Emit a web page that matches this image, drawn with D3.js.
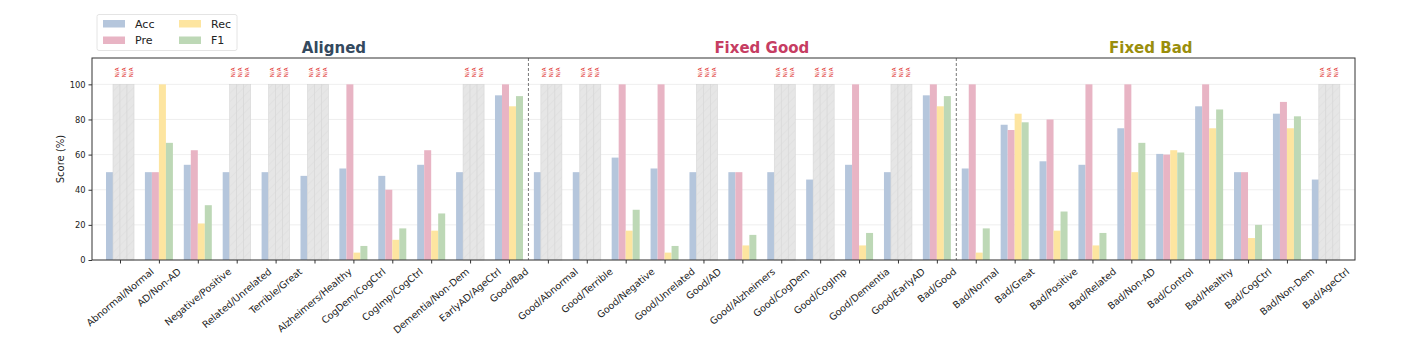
<!DOCTYPE html>
<html><head><meta charset="utf-8">
<script src="https://cdn.jsdelivr.net/npm/d3@7"></script>
<style>body{margin:0;background:#fff;} text{font-family:"DejaVu Sans",sans-serif;}</style>
</head><body>
<svg id="chart" width="1403" height="358"></svg>
<script>
const categories = ["Abnormal/Normal","AD/Non-AD","Negative/Positive","Related/Unrelated","Terrible/Great","Alzheimers/Healthy","CogDem/CogCtrl","CogImp/CogCtrl","Dementia/Non-Dem","EarlyAD/AgeCtrl","Good/Bad",
"Good/Abnormal","Good/Terrible","Good/Negative","Good/Unrelated","Good/AD","Good/Alzheimers","Good/CogDem","Good/CogImp","Good/Dementia","Good/EarlyAD","Bad/Good",
"Bad/Normal","Bad/Great","Bad/Positive","Bad/Related","Bad/Non-AD","Bad/Control","Bad/Healthy","Bad/CogCtrl","Bad/Non-Dem","Bad/AgeCtrl"];
const acc = [50,50,54.2,50,50,47.9,52.1,47.9,54.2,50,93.75, 50,50,58.3,52.1,50,50,50,45.8,54.2,50,93.75, 52.1,77,56.2,54.2,75,60.4,87.5,50,83.3,45.8];
const pre = [null,50,62.5,null,null,null,100,40,62.5,null,100, null,null,100,100,null,50,null,null,100,null,100, 100,74,80,100,100,60,100,50,90,null];
const rec = [null,100,20.8,null,null,null,4.2,11.5,16.7,null,87.5, null,null,16.7,4.2,null,8.3,null,null,8.3,null,87.5, 4.2,83.3,16.7,8.3,50,62.5,75,12.5,75,null];
const f1  = [null,66.7,31.2,null,null,null,8.0,18.0,26.5,null,93.3, null,null,28.6,8.0,null,14.3,null,null,15.4,null,93.3, 18.0,78.4,27.6,15.4,66.7,61.2,85.7,20.0,81.8,null];
const seriesNames = ["Acc","Pre","Rec","F1"];
const seriesColors = ["#b5c6dc","#e8b4c4","#fde5a0","#bdd8b6"];
const sections = [{name:"Aligned",x:5.5,color:"#34495e"},{name:"Fixed Good",x:16.5,color:"#c63d62"},{name:"Fixed Bad",x:26.5,color:"#9a8e0c"}];
const dividers = [10.5, 21.5];
const yTicks = [0,20,40,60,80,100];

const svg = d3.select("#chart");
const L=92, R=1355, T=58, B=260;
const x = d3.scaleLinear().domain([-0.72, 31.75]).range([L,R]);
const y = d3.scaleLinear().domain([0,115]).range([B,T]);
const bw = 0.18;
const series = [acc,pre,rec,f1];

const defs = svg.append("defs");
const pat = defs.append("pattern").attr("id","hatch").attr("patternUnits","userSpaceOnUse")
  .attr("width",6).attr("height",6).attr("patternTransform","rotate(45)");
pat.append("rect").attr("width",6).attr("height",6).attr("fill","#e6e6e6");
pat.append("line").attr("x1",0).attr("y1",0).attr("x2",0).attr("y2",6).attr("stroke","#dcdcdc").attr("stroke-width",1);

// grid
svg.append("g").selectAll("line").data(yTicks).join("line")
  .attr("x1",L).attr("x2",R).attr("y1",d=>y(d)).attr("y2",d=>y(d))
  .attr("stroke","#ebebeb").attr("stroke-width",0.8);

// bars
const gBars = svg.append("g");
categories.forEach((c,i)=>{
  series.forEach((s,k)=>{
    const off = (k-1.5)*bw;
    const x0 = x(i+off-bw/2), w = x(i+off+bw/2)-x0;
    const v = s[i];
    if(v===null){
      gBars.append("rect").attr("x",x0).attr("width",w).attr("y",y(100)).attr("height",y(0)-y(100))
        .attr("fill","url(#hatch)").attr("stroke","#d6d6d6").attr("stroke-width",0.6);
      const cx = x(i+off), cy = y(104);
      gBars.append("text").attr("transform",`translate(${cx+2},${cy}) rotate(-90)`)
        .attr("text-anchor","start").attr("font-size",5.5).attr("fill","#e0302e").text("N/A");
    } else {
      gBars.append("rect").attr("x",x0).attr("width",w).attr("y",y(v)).attr("height",y(0)-y(v))
        .attr("fill",seriesColors[k]);
    }
  });
});

// dividers
svg.append("g").selectAll("line").data(dividers).join("line")
  .attr("x1",d=>x(d)).attr("x2",d=>x(d)).attr("y1",T).attr("y2",B)
  .attr("stroke","#777").attr("stroke-width",1).attr("stroke-dasharray","3,2");

// frame
svg.append("rect").attr("x",L).attr("y",T).attr("width",R-L).attr("height",B-T)
  .attr("fill","none").attr("stroke","#333").attr("stroke-width",1);

// y axis
const yAxis = d3.axisLeft(y).tickValues(yTicks).tickSize(3.5).tickPadding(3);
const gy = svg.append("g").attr("transform",`translate(${L},0)`).call(yAxis);
gy.select(".domain").remove();
gy.selectAll("text").attr("font-size",8.3).attr("fill","#222").attr("font-family","DejaVu Sans");
gy.selectAll("line").attr("stroke","#333");
svg.append("text").attr("transform",`translate(64,${(T+B)/2}) rotate(-90)`)
  .attr("text-anchor","middle").attr("font-size",10).attr("fill","#222").text("Score (%)");

// x axis
const xAxis = d3.axisBottom(x).tickValues(d3.range(categories.length)).tickSize(3.5).tickFormat("");
const gx = svg.append("g").attr("transform",`translate(0,${B})`).call(xAxis);
gx.select(".domain").remove();
gx.selectAll("line").attr("stroke","#333");
const ang = 40*Math.PI/180;
const gl = svg.append("g");
categories.forEach((c,i)=>{
  const t = gl.append("text").attr("font-size",9.6).attr("fill","#222").attr("text-anchor","middle")
    .attr("dominant-baseline","central").text(c);
  const w = t.node().getComputedTextLength(), h = 10.5;
  const H = w*Math.sin(ang)+h*Math.cos(ang);
  t.attr("transform",`translate(${x(i)},${266+H/2}) rotate(-40)`);
});

// section titles
svg.append("g").selectAll("text").data(sections).join("text")
  .attr("x",d=>x(d.x)).attr("y",53).attr("text-anchor","middle")
  .attr("font-size",15).attr("font-weight","bold").attr("fill",d=>d.color).text(d=>d.name);

// legend
const lg = svg.append("g");
lg.append("rect").attr("x",97).attr("y",14.5).attr("width",140).attr("height",36).attr("rx",2)
  .attr("fill","#fff").attr("stroke","#dddddd").attr("stroke-width",0.8);
seriesNames.forEach((n,k)=>{
  const col = Math.floor(k/2), row = k%2;
  const px = 103 + col*76, py = 20 + row*16.5;
  lg.append("rect").attr("x",px).attr("y",py).attr("width",22).attr("height",7.5).attr("fill",seriesColors[k]);
  lg.append("text").attr("x",px+32).attr("y",py+7.5).attr("font-size",11).attr("fill","#222").text(n);
});
</script>
</body></html>
